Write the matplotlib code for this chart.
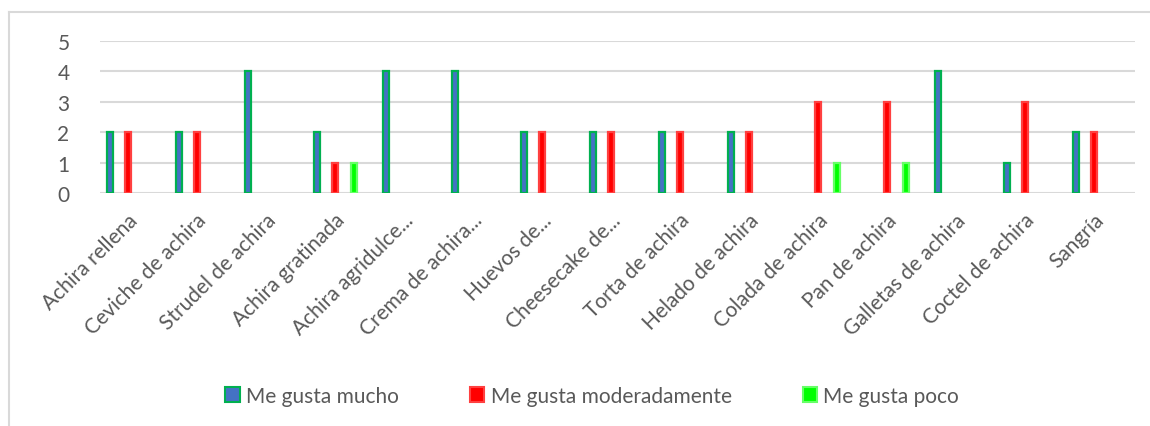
import numpy as np
import matplotlib.pyplot as plt
from matplotlib.lines import Line2D
from matplotlib.patches import Patch

plt.rcParams['font.family'] = ['Lato', 'DejaVu Sans']

platos = ['Achira rellena', 'Ceviche de achira', 'Strudel de achira', 'Achira gratinada',
          'Achira agridulce...', 'Crema de achira...', 'Huevos de...', 'Cheesecake de...',
          'Torta de achira', 'Helado de achira', 'Colada de achira', 'Pan de achira',
          'Galletas de achira', 'Coctel de achira', 'Sangría']
mucho = [2, 2, 4, 2, 4, 4, 2, 2, 2, 2, 0, 0, 4, 1, 2]
moderado = [2, 2, 0, 1, 0, 0, 2, 2, 2, 2, 3, 3, 0, 3, 2]
poco = [0, 0, 0, 1, 0, 0, 0, 0, 0, 0, 1, 1, 0, 0, 0]

series = [
    ('Me gusta mucho', mucho, '#4472C4', '#00B050'),
    ('Me gusta moderadamente', moderado, '#FF0000', '#FF4040'),
    ('Me gusta poco', poco, '#00FF00', '#66FF66'),
]
offsets = [-0.355, -0.09, 0.18]
gris = '#595959'

fig = plt.figure(figsize=(11.5, 4.27), dpi=100)
ax = fig.add_axes([100 / 1150, 1 - 194 / 427, 1035 / 1150, 152 / 427])

x = np.arange(len(platos))
for (nombre, vals, color, borde), off in zip(series, offsets):
    vals = np.array(vals)
    m = vals > 0  # las barras en cero no se dibujan
    ax.bar(x[m] + off, vals[m], width=0.085, color=color, edgecolor=borde,
           linewidth=1.6, zorder=3)

ax.set_xlim(-0.5, len(platos) - 0.5)
ax.set_ylim(0, 5)
ax.set_yticks(range(6))
ax.yaxis.grid(True, color='#D9D9D9', linewidth=1.5, zorder=0)
for s in ax.spines.values():
    s.set_visible(False)
ax.tick_params(axis='both', length=0, colors=gris, labelsize=15)
ax.tick_params(axis='y', pad=22)
ax.set_xticks(x)
ax.set_xticklabels(platos, rotation=45, ha='right', va='center', rotation_mode='anchor')
ax.tick_params(axis='x', pad=17)

handles = [Patch(facecolor=c, edgecolor=b, linewidth=1.5, label=n) for n, _, c, b in series]
leg = fig.legend(handles=handles, loc='center', bbox_to_anchor=(0.515, 1 - 397 / 427), ncol=3,
                 frameon=False, fontsize=15, handlelength=0.7, handleheight=0.7,
                 handletextpad=0.3, columnspacing=3.4)
for t in leg.get_texts():
    t.set_color(gris)

# marco del área del gráfico
fig.add_artist(Line2D([9 / 1150, 9 / 1150], [0, 1 - 13 / 427], color='#D9D9D9', linewidth=1.5))
fig.add_artist(Line2D([9 / 1150, 1], [1 - 13 / 427, 1 - 13 / 427], color='#D9D9D9', linewidth=1.5))

fig.savefig('out.png', dpi=100)
